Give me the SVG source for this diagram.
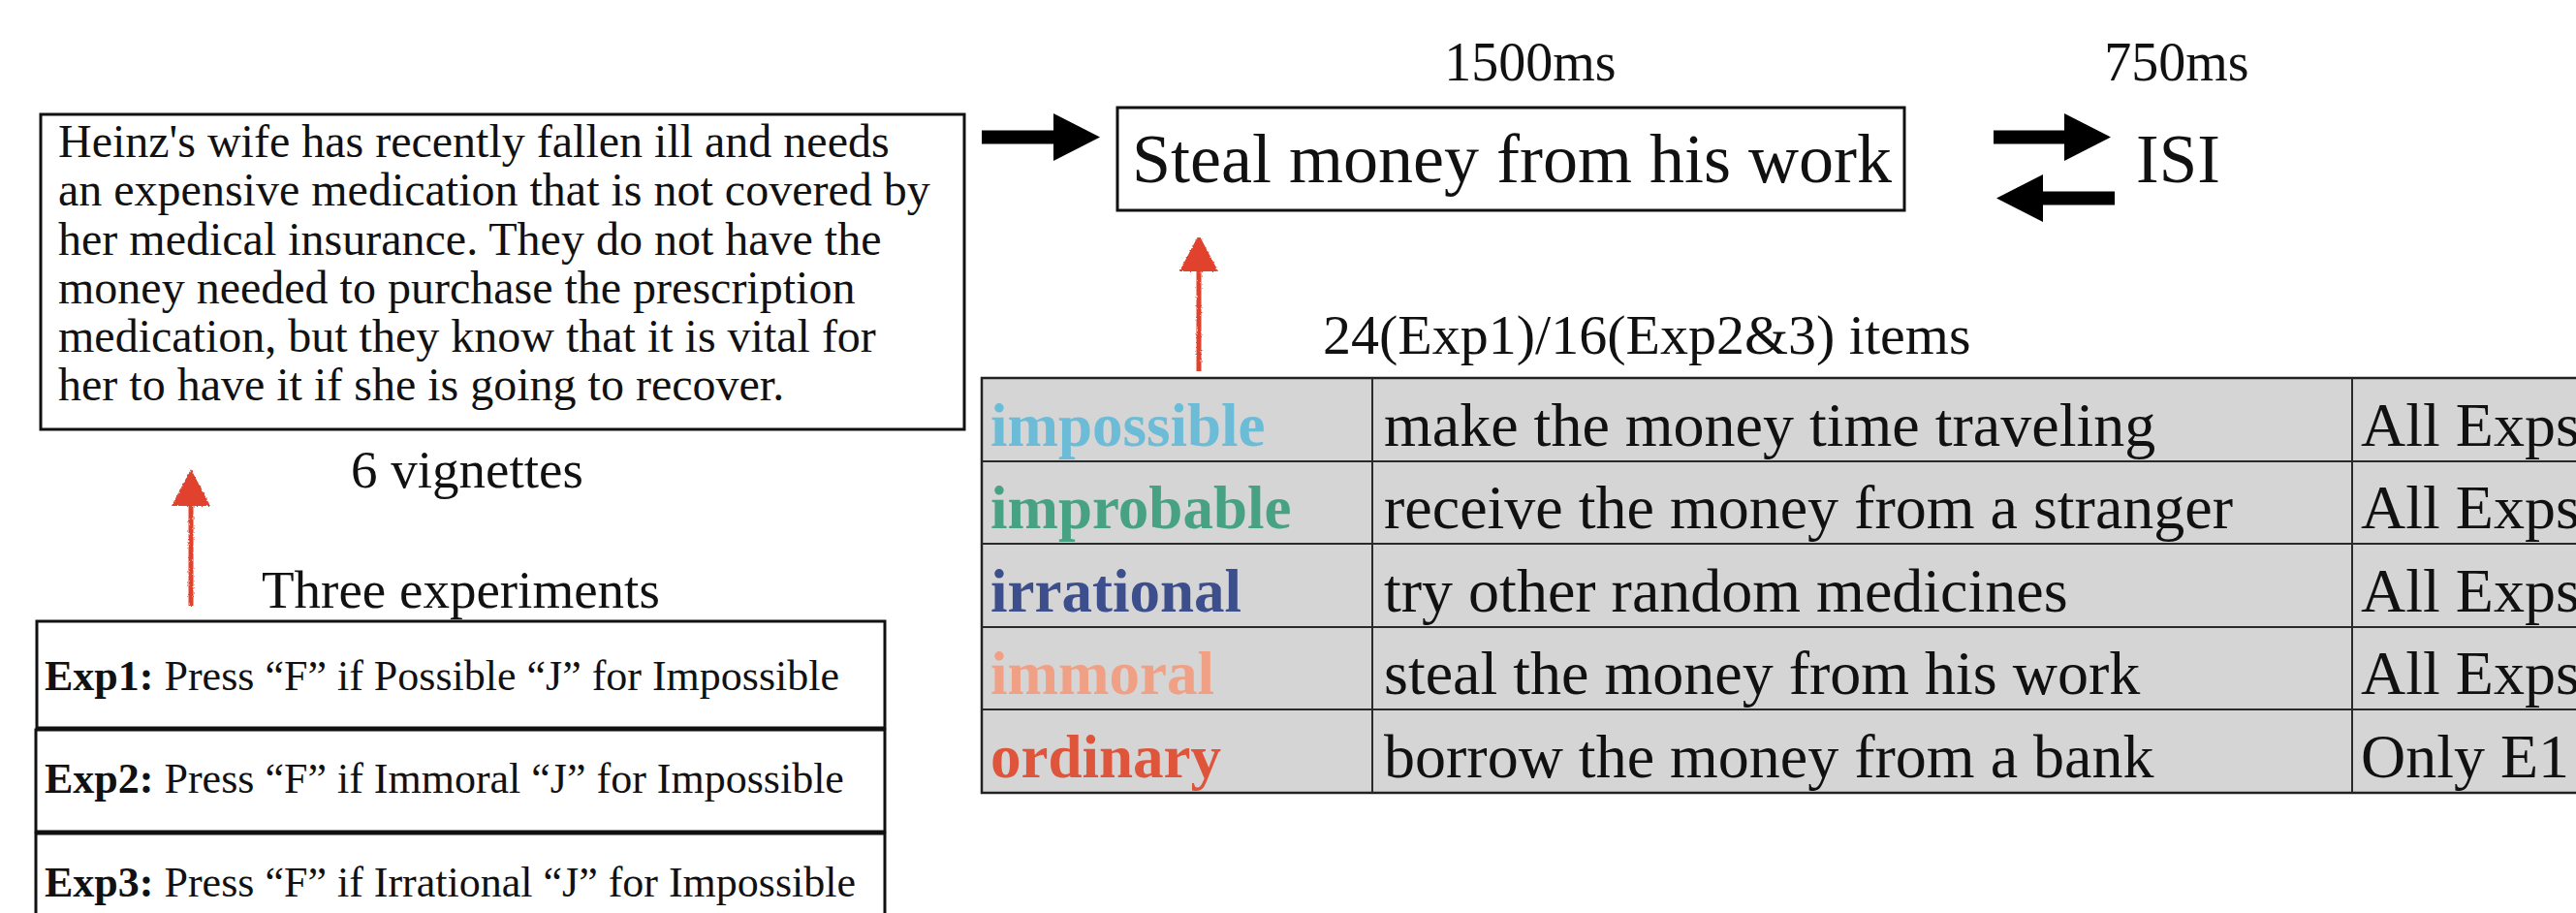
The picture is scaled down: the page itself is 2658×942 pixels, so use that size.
<svg xmlns="http://www.w3.org/2000/svg" width="2658" height="942" viewBox="0 0 2658 942">
  <style>
    text { font-family: "Liberation Serif", "Times New Roman", serif; fill: #111; }
    .box { fill: #fff; stroke: #111; stroke-width: 3; }
    .vig { font-size: 48px; }
    .stim { font-size: 72px; }
    .timing { font-size: 56px; }
    .caption { font-size: 55px; }
    .exp { font-size: 44px; }
    .exp .b { font-weight: bold; }
    .cell { font-size: 64px; }
    .cat { font-size: 63px; font-weight: bold; }
    .grid { stroke: #2a2a2a; stroke-width: 2; }
    .blk { stroke: #000; stroke-width: 14; fill: none; }
    .red { stroke: #e0432f; stroke-width: 5; fill: none; }
  </style>
  <defs>
    <marker id="blackHead" markerUnits="userSpaceOnUse" viewBox="0 0 48 49" markerWidth="48" markerHeight="49" refX="0" refY="24.5" orient="auto">
      <path d="M0,0 L48,24.5 L0,49 Z" fill="#000"/>
    </marker>
    <marker id="redHead" markerUnits="userSpaceOnUse" viewBox="0 0 38 40" markerWidth="38" markerHeight="40" refX="0" refY="20" orient="auto">
      <path d="M0,0 L38,20 L0,40 Z" fill="#e0432f"/>
    </marker>
    <!-- slightly ragged edge for the hand-drawn red arrows -->
    <filter id="crayon" x="-50%" y="-10%" width="200%" height="120%">
      <feTurbulence type="fractalNoise" baseFrequency="0.6" numOctaves="2" seed="3" result="n"/>
      <feDisplacementMap in="SourceGraphic" in2="n" scale="3" xChannelSelector="R" yChannelSelector="G"/>
    </filter>
  </defs>

  <rect width="2658" height="942" fill="#fff"/>

  <!-- scenario text -->
  <g id="vignette">
    <rect class="box" x="42" y="118" width="953" height="325"/>
    <text class="vig" x="60" y="162">Heinz's wife has recently fallen ill and needs</text>
    <text class="vig" x="60" y="212">an expensive medication that is not covered by</text>
    <text class="vig" x="60" y="263">her medical insurance. They do not have the</text>
    <text class="vig" x="60" y="313">money needed to purchase the prescription</text>
    <text class="vig" x="60" y="363">medication, but they know that it is vital for</text>
    <text class="vig" x="60" y="413">her to have it if she is going to recover.</text>
  </g>

  <g id="vignette-count">
    <text class="caption" x="362" y="503">6 vignettes</text>
  </g>

  <!-- stimulus presentation -->
  <g id="stimulus">
    <rect class="box" x="1153" y="111" width="812" height="106"/>
    <text class="stim" x="1168" y="188">Steal money from his work</text>
  </g>
  <g id="stimulus-time">
    <text class="timing" x="1579" y="83" text-anchor="middle">1500ms</text>
  </g>

  <g id="isi">
    <text x="2204" y="188" style="font-size:71px">ISI</text>
  </g>
  <g id="isi-time">
    <text class="timing" x="2246" y="83" text-anchor="middle">750ms</text>
  </g>

  <g id="item-count">
    <text x="1365" y="365" style="font-size:58px">24(Exp1)/16(Exp2&amp;3) items</text>
  </g>

  <!-- item table -->
  <g id="items">
    <rect x="1013" y="390" width="1660" height="428" fill="#d5d5d5" stroke="#222" stroke-width="2.5"/>
    <line class="grid" x1="1013" y1="476" x2="2658" y2="476"/>
    <line class="grid" x1="1013" y1="561" x2="2658" y2="561"/>
    <line class="grid" x1="1013" y1="647" x2="2658" y2="647"/>
    <line class="grid" x1="1013" y1="732" x2="2658" y2="732"/>
    <line class="grid" x1="1416" y1="390" x2="1416" y2="818"/>
    <line class="grid" x1="2427" y1="390" x2="2427" y2="818"/>

    <text class="cat" x="1022" y="460" style="fill:#6cbcd8">impossible</text>
    <text class="cell" x="1428" y="460">make the money time traveling</text>
    <text class="cell" x="2436" y="460">All Exps</text>

    <text class="cat" x="1022" y="545" style="fill:#47a283">improbable</text>
    <text class="cell" x="1428" y="545">receive the money from a stranger</text>
    <text class="cell" x="2436" y="545">All Exps</text>

    <text class="cat" x="1022" y="631" style="fill:#3c4f8c">irrational</text>
    <text class="cell" x="1428" y="631">try other random medicines</text>
    <text class="cell" x="2436" y="631">All Exps</text>

    <text class="cat" x="1022" y="716" style="fill:#f0a084">immoral</text>
    <text class="cell" x="1428" y="716">steal the money from his work</text>
    <text class="cell" x="2436" y="716">All Exps</text>

    <text class="cat" x="1022" y="802" style="fill:#de553c">ordinary</text>
    <text class="cell" x="1428" y="802">borrow the money from a bank</text>
    <text class="cell" x="2436" y="802">Only E1</text>
  </g>

  <!-- experiment instructions -->
  <g id="experiments-title">
    <text class="caption" x="270" y="627">Three experiments</text>
  </g>
  <g id="exp1">
    <rect class="box" x="38" y="641" width="875" height="110"/>
    <text class="exp" x="46" y="712"><tspan class="b">Exp1:</tspan> Press “F” if Possible “J” for Impossible</text>
  </g>
  <g id="exp2">
    <rect class="box" x="37" y="753" width="876" height="105"/>
    <text class="exp" x="46" y="818"><tspan class="b">Exp2:</tspan> Press “F” if Immoral “J” for Impossible</text>
  </g>
  <g id="exp3">
    <rect class="box" x="37" y="860" width="876" height="100"/>
    <text class="exp" x="46" y="925"><tspan class="b">Exp3:</tspan> Press “F” if Irrational “J” for Impossible</text>
  </g>

  <!-- connectors -->
  <g id="connectors">
    <line class="blk" x1="1013" y1="141.5" x2="1087" y2="141.5" marker-end="url(#blackHead)"/>
    <line class="blk" x1="2057" y1="141.5" x2="2130" y2="141.5" marker-end="url(#blackHead)"/>
    <line class="blk" x1="2182" y1="204.5" x2="2108" y2="204.5" marker-end="url(#blackHead)"/>
    <g filter="url(#crayon)">
      <line class="red" x1="1237" y1="383" x2="1237" y2="280" marker-end="url(#redHead)"/>
      <line class="red" x1="197" y1="625" x2="197" y2="522" marker-end="url(#redHead)"/>
    </g>
  </g>
</svg>
